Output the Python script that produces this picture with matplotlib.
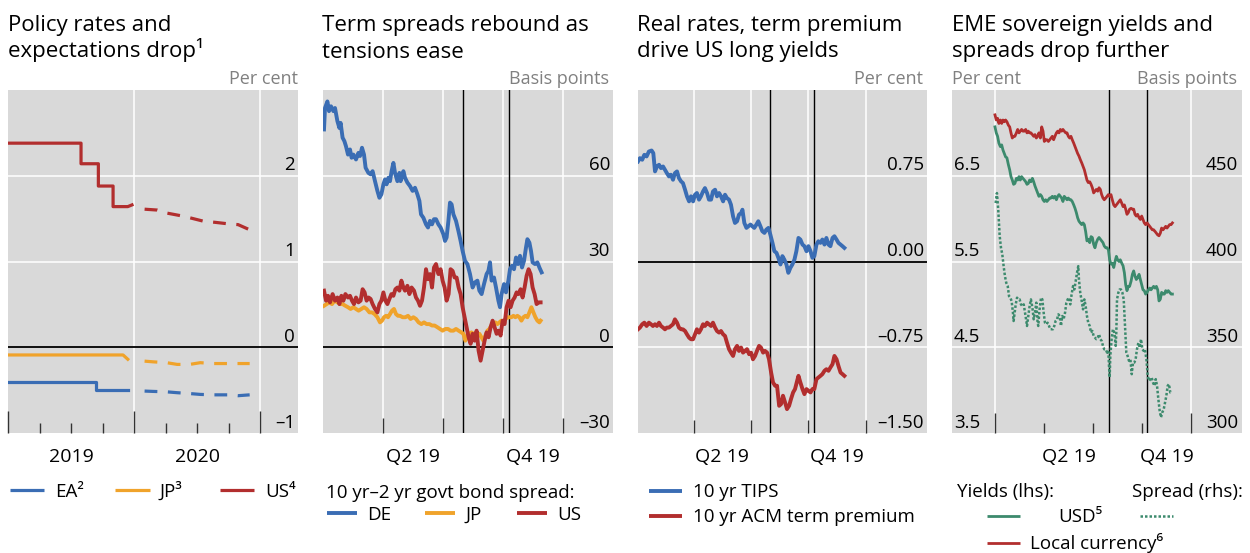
import matplotlib
matplotlib.use("Agg")
import matplotlib.pyplot as plt
import matplotlib.transforms as mtransforms
from matplotlib.lines import Line2D

plt.rcParams['font.family'] = ['Open Sans', 'DejaVu Sans']

# ---------------- DATA (x in months since 1 Jan 2019) ----------------
# Panel 1: policy rates (solid) and market-implied path (dashed), per cent
us_m = [0, 6.95, 6.95, 8.6, 8.6, 10.0, 10.0, 11.4, 11.8]
us_v = [2.38, 2.38, 2.14, 2.14, 1.88, 1.88, 1.64, 1.64, 1.66]
us_fm = [12.0, 13.0, 14.2, 15.1, 16.4, 17.3, 18.6, 19.7, 20.9, 21.9, 23.0]
us_fv = [1.62, 1.61, 1.60, 1.565, 1.535, 1.51, 1.47, 1.457, 1.44, 1.43, 1.37]
jp_m = [0, 10.95, 11.4]
jp_v = [-0.09, -0.09, -0.14]
jp_fm = [12.0, 12.8, 13.8, 15.1, 16.1, 17.3, 18.3, 19.5, 20.9, 23.0]
jp_fv = [-0.15, -0.16, -0.17, -0.18, -0.20, -0.20, -0.18, -0.19, -0.19, -0.19]
ea_m = [0, 8.4, 8.4, 11.4]
ea_v = [-0.40, -0.40, -0.50, -0.50]
ea_fm = [12.0, 12.8, 13.8, 15.1, 16.1, 17.3, 18.3, 19.5, 20.9, 21.9, 23.0]
ea_fv = [-0.50, -0.51, -0.515, -0.52, -0.53, -0.54, -0.55, -0.555, -0.555, -0.565, -0.555]

# Panel 2: 10yr-2yr spreads, basis points
de_m = [0.05,0.10,0.22,0.30,0.40,0.52,0.60,0.72,0.82,0.88, 0.98,1.07,1.15,1.25,1.35,1.43,1.52,1.65,1.77,1.85,
        1.95,2.05,2.13,2.27,2.38,2.48,2.60,2.72,2.82,2.92, 3.02,3.10,3.18,3.27,3.35,3.43,3.52,3.60,3.72,3.82,
        3.88,4.02,4.10,4.22,4.35,4.48,4.60,4.72,4.82,4.90, 5.02,5.15,5.25,5.35,5.45,5.55,5.65,5.77,5.88,6.02,
        6.10,6.18,6.27,6.35,6.43,6.52,6.65,6.77,6.88,6.98, 7.10,7.22,7.35,7.48,7.60,7.72,7.82,7.93,8.05,8.18,
        8.27,8.35,8.43,8.55,8.65,8.77,8.85,8.93,9.05,9.15, 9.27,9.35,9.45,9.55,9.65,9.75,9.85,9.95,10.05,10.15,
        10.22,10.32,10.40,10.48,10.60,10.72,10.82,10.93]
de_v = [76.2,83.7,86.0,82.6,84.3,82.6,83.7,79.1,76.7,78.5, 73.3,72.1,70.3,67.4,69.2,66.3,67.4,65.7,68.0,66.9,
        69.8,67.4,62.8,61.0,60.5,61.6,58.1,54.7,52.3,53.5, 57.0,58.7,57.0,59.3,58.1,61.6,64.5,61.0,58.1,61.0,
        58.1,61.6,59.3,57.6,56.4,54.7,55.8,53.5,51.2,46.5, 45.3,43.0,41.9,44.2,43.0,44.8,44.8,43.0,41.9,39.5,
        37.2,38.4,44.2,50.6,50.0,46.5,44.2,40.7,37.2,33.7, 30.2,29.1,25.6,20.9,22.7,23.3,19.8,18.6,22.1,25.6,
        26.7,29.7,23.3,24.4,20.9,16.3,14.0,18.6,22.1,19.2, 23.3,27.3,28.5,27.3,31.4,29.1,32.0,27.9,30.2,34.9,
        37.8,36.6,33.7,29.7,29.1,29.7,27.9,26.2]
us2_m = [0.05,0.15,0.25,0.35,0.48,0.60,0.72,0.82,0.92,1.02, 1.12,1.25,1.35,1.45,1.55,1.65,1.77,1.88,1.98,2.08,
         2.18,2.28,2.38,2.48,2.60,2.72,2.82,2.92,3.02,3.12, 3.22,3.32,3.42,3.52,3.62,3.72,3.82,3.92,4.02,4.10,
         4.22,4.32,4.43,4.55,4.65,4.75,4.85,4.95,5.05,5.15, 5.25,5.35,5.45,5.55,5.65,5.77,5.88,5.98,6.08,6.18,
         6.28,6.38,6.48,6.58,6.68,6.78,6.88,6.98,7.08,7.18, 7.28,7.38,7.48,7.58,7.68,7.78,7.88,7.98,8.08,8.18,
         8.28,8.38,8.48,8.58,8.68,8.78,8.88,8.98,9.08,9.18, 9.28,9.38,9.48,9.58,9.68,9.78,9.88,9.98,10.08,10.18,
         10.28,10.38,10.48,10.58,10.68,10.78,10.88]
us2_v = [19.8,16.3,18.0,15.7,18.6,16.3,17.4,15.1,18.0,16.3, 18.6,17.4,18.0,16.3,15.1,17.4,15.7,16.3,20.3,19.2,
         16.3,17.4,16.9,15.1,13.4,12.2,15.1,16.3,19.2,16.3, 15.1,16.9,18.6,18.0,20.3,20.9,19.8,23.3,20.9,19.8,
         21.5,18.6,20.9,19.8,17.4,16.3,14.5,16.3,20.9,27.3, 23.8,25.6,20.9,27.9,29.1,25.6,27.3,23.3,20.9,16.3,
         18.6,27.3,26.7,24.4,24.4,20.9,18.6,14.0,10.5,7.0, 3.5,1.2,4.7,2.3,5.8,-1.2,-4.7,-1.2,2.3,5.2,
         3.5,7.0,9.3,7.0,4.7,5.8,4.1,9.3,8.1,14.0, 16.3,14.0,16.3,17.4,19.2,18.6,20.3,17.4,20.9,25.0,
         27.3,25.6,20.9,18.6,15.1,15.7,15.7]
jp2_m = [0.05,0.18,0.32,0.45,0.58,0.72,0.85,0.98,1.12,1.25, 1.38,1.52,1.65,1.78,1.92,2.05,2.18,2.32,2.45,2.58,
         2.72,2.85,2.95,3.05,3.15,3.25,3.35,3.45,3.55,3.65, 3.75,3.85,3.98,4.12,4.25,4.38,4.52,4.65,4.78,4.92,
         5.05,5.18,5.32,5.45,5.58,5.72,5.85,5.98,6.12,6.25, 6.38,6.52,6.65,6.78,6.92,7.02,7.12,7.22,7.32,7.42,
         7.52,7.62,7.72,7.82,7.92,8.02,8.12,8.22,8.32,8.42, 8.52,8.62,8.72,8.82,8.92,9.02,9.12,9.22,9.32,9.42,
         9.52,9.62,9.72,9.82,9.92,10.02,10.12,10.22,10.32,10.42, 10.52,10.62,10.72,10.82,10.88]
jp2_v = [14.5,15.1,15.7,15.1,16.3,15.7,15.1,15.1,14.5,14.0, 13.4,14.0,13.4,12.8,13.4,14.0,13.4,12.2,12.2,11.6,
         10.5,8.7,9.3,10.5,11.0,10.5,11.6,12.8,13.4,11.6, 11.0,11.0,10.5,10.5,11.0,9.9,10.5,9.9,8.7,8.1,
         8.7,8.1,8.1,7.6,7.6,7.0,6.4,5.8,6.4,6.4, 5.8,5.8,6.4,5.8,5.2,4.7,2.3,4.1,4.7,5.2,
         4.7,4.7,4.1,4.7,3.5,2.3,4.1,5.8,6.4,7.6, 8.1,8.7,8.1,8.7,9.3,8.7,9.9,10.5,10.5,10.5,
         11.0,10.5,11.0,10.5,9.3,10.5,11.0,10.5,12.2,14.0, 12.2,10.5,9.3,8.7,9.3]

# Panel 3: US real rates and term premium, per cent
tips_m = [0.09,0.19,0.31,0.42,0.54,0.66,0.80,0.89,0.98,1.08, 1.19,1.29,1.40,1.50,1.60,1.71,1.81,1.92,2.02,2.13,
          2.23,2.34,2.44,2.55,2.65,2.76,2.86,2.97,3.07,3.17, 3.28,3.38,3.49,3.59,3.70,3.80,3.91,4.01,4.12,4.22,
          4.33,4.43,4.54,4.64,4.74,4.85,4.95,5.06,5.16,5.27, 5.37,5.48,5.55,5.65,5.76,5.86,5.97,6.07,6.17,6.28,
          6.38,6.49,6.59,6.70,6.80,6.91,7.01,7.12,7.22,7.33, 7.43,7.54,7.64,7.74,7.85,7.95,8.06,8.16,8.27,8.37,
          8.48,8.58,8.69,8.79,8.90,9.00,9.11,9.21,9.31,9.42, 9.52,9.63,9.73,9.84,9.94,10.05,10.15,10.26,10.36,10.47,
          10.57,10.68,10.78,10.88]
tips_v = [0.875,0.904,0.890,0.933,0.919,0.962,0.971,0.948,0.788,0.831, 0.846,0.817,0.831,0.802,0.773,0.744,0.759,0.715,0.773,0.788,
          0.730,0.701,0.686,0.628,0.570,0.526,0.570,0.526,0.584,0.599, 0.541,0.570,0.613,0.642,0.599,0.541,0.541,0.613,0.628,0.570,
          0.599,0.570,0.526,0.584,0.555,0.541,0.497,0.395,0.337,0.352, 0.410,0.424,0.453,0.337,0.294,0.308,0.323,0.308,0.294,0.323,
          0.352,0.308,0.265,0.250,0.279,0.294,0.235,0.163,0.090,0.076, 0.032,-0.026,0.047,0.017,-0.026,-0.099,-0.055,-0.026,0.017,0.090,
          0.206,0.192,0.148,0.134,0.090,0.134,0.090,0.032,0.047,0.148, 0.177,0.163,0.192,0.148,0.206,0.148,0.134,0.206,0.221,0.192,
          0.163,0.148,0.134,0.119]
acm_m = [0.09,0.19,0.31,0.42,0.54,0.66,0.77,0.87,0.98,1.08, 1.19,1.29,1.40,1.50,1.60,1.71,1.81,1.92,2.02,2.13,
         2.23,2.34,2.44,2.55,2.65,2.76,2.86,2.97,3.07,3.17, 3.28,3.38,3.49,3.59,3.70,3.80,3.91,4.01,4.12,4.22,
         4.33,4.43,4.54,4.64,4.74,4.85,4.95,5.06,5.16,5.27, 5.37,5.48,5.58,5.69,5.79,5.90,6.00,6.10,6.21,6.31,
         6.42,6.52,6.63,6.73,6.84,6.94,7.05,7.15,7.26,7.36, 7.47,7.57,7.67,7.78,7.88,7.99,8.09,8.20,8.30,8.41,
         8.48,8.58,8.69,8.79,8.90,9.00,9.11,9.21,9.31,9.42, 9.52,9.63,9.73,9.84,9.94,10.05,10.15,10.26,10.36,10.47,
         10.57,10.68,10.78,10.88]
acm_v = [-0.593,-0.578,-0.549,-0.535,-0.564,-0.535,-0.549,-0.564,-0.549,-0.564, -0.535,-0.564,-0.578,-0.593,-0.578,-0.578,-0.564,-0.549,-0.506,-0.535,
         -0.578,-0.593,-0.593,-0.608,-0.637,-0.666,-0.680,-0.680,-0.637,-0.593, -0.622,-0.593,-0.549,-0.564,-0.535,-0.549,-0.564,-0.535,-0.578,-0.608,
         -0.622,-0.608,-0.637,-0.651,-0.709,-0.767,-0.797,-0.826,-0.767,-0.738, -0.782,-0.753,-0.797,-0.782,-0.767,-0.811,-0.797,-0.855,-0.826,-0.782,
         -0.738,-0.753,-0.797,-0.782,-0.797,-0.855,-0.971,-1.058,-1.087,-1.087, -1.262,-1.247,-1.174,-1.233,-1.291,-1.262,-1.203,-1.145,-1.116,-1.044,
         -1.000,-1.058,-1.116,-1.160,-1.116,-1.131,-1.145,-1.116,-1.116,-1.029, -1.015,-1.000,-0.985,-0.956,-0.942,-0.956,-0.927,-0.898,-0.826,-0.855,
         -0.913,-0.971,-0.985,-1.000]

# Panel 4: EME sovereign yields (per cent, lhs) and spread (bp, rhs)
eme_m = [0,0.08,0.16,0.24,0.33,0.41,0.49,0.57,0.65,0.73, 0.82,0.90,0.98,1.06,1.14,1.22,1.31,1.39,1.47,1.55,
         1.63,1.71,1.80,1.88,1.96,2.04,2.12,2.20,2.29,2.37, 2.45,2.53,2.61,2.69,2.78,2.86,2.94,3.02,3.10,3.18,
         3.27,3.35,3.43,3.51,3.59,3.67,3.76,3.84,3.92,4.00, 4.08,4.16,4.24,4.33,4.41,4.49,4.57,4.65,4.73,4.82,
         4.90,4.98,5.06,5.14,5.22,5.31,5.39,5.47,5.55,5.63, 5.71,5.80,5.88,5.96,6.04,6.12,6.20,6.29,6.37,6.45,
         6.53,6.61,6.69,6.78,6.86,6.94,7.02,7.10,7.18,7.27, 7.35,7.43,7.51,7.59,7.67,7.76,7.84,7.92,8.00,8.08,
         8.16,8.24,8.33,8.41,8.49,8.57,8.65,8.73,8.82,8.90, 8.98,9.06,9.14,9.22,9.31,9.39,9.47,9.55,9.63,9.71,
         9.80,9.88,9.96,10.04,10.12,10.20,10.29,10.37,10.45,10.53, 10.61,10.69,10.78,10.86]
usd_v = [7.07,7.00,6.96,6.88,6.84,6.86,6.80,6.76,6.72,6.71, 6.63,6.57,6.49,6.45,6.40,6.41,6.47,6.45,6.49,6.45,
         6.49,6.47,6.45,6.43,6.40,6.41,6.45,6.43,6.47,6.43, 6.38,6.34,6.30,6.26,6.28,6.26,6.22,6.20,6.22,6.20,
         6.22,6.24,6.24,6.26,6.24,6.26,6.22,6.26,6.28,6.26, 6.24,6.20,6.26,6.24,6.22,6.24,6.22,6.22,6.20,6.16,
         6.12,6.07,6.01,5.97,5.95,5.93,5.95,5.93,5.85,5.74, 5.76,5.72,5.79,5.78,5.70,5.66,5.72,5.76,5.78,5.76,
         5.74,5.72,5.68,5.66,5.66,5.64,5.52,5.47,5.48,5.43, 5.50,5.56,5.52,5.50,5.52,5.48,5.45,5.37,5.23,5.16,
         5.21,5.21,5.27,5.35,5.39,5.33,5.29,5.31,5.35,5.29, 5.23,5.17,5.16,5.12,5.14,5.17,5.19,5.17,5.19,5.21,
         5.19,5.21,5.17,5.04,5.06,5.14,5.12,5.12,5.16,5.14, 5.16,5.14,5.12,5.12]
lcy_v = [7.21,7.15,7.17,7.11,7.15,7.11,7.15,7.13,7.15,7.13, 7.09,7.07,7.00,6.94,6.96,6.96,7.00,7.04,7.00,7.02,
         7.04,7.02,7.02,7.04,7.00,7.02,7.00,7.00,6.98,6.96, 6.98,6.94,6.96,7.00,6.94,7.07,7.02,6.90,6.92,6.92,
         6.90,6.92,6.94,6.96,6.92,6.96,7.00,7.02,7.00,7.04, 7.02,7.04,7.02,7.00,7.00,6.96,6.94,6.96,6.92,6.88,
         6.84,6.80,6.76,6.73,6.69,6.65,6.61,6.57,6.51,6.45, 6.42,6.43,6.40,6.36,6.30,6.32,6.34,6.32,6.36,6.34,
         6.28,6.24,6.22,6.24,6.26,6.28,6.26,6.28,6.22,6.16, 6.14,6.16,6.18,6.20,6.22,6.18,6.14,6.16,6.11,6.05,
         6.07,6.11,6.12,6.11,6.11,6.05,6.03,6.05,6.01,5.99, 6.03,5.99,5.95,5.93,5.95,5.93,5.91,5.89,5.87,5.87,
         5.85,5.83,5.81,5.80,5.83,5.89,5.87,5.89,5.91,5.89, 5.91,5.93,5.93,5.95]
sp_m = [0.04,0.12,0.20,0.29,0.37,0.45,0.53,0.61,0.69,0.78, 0.86,0.94,1.02,1.10,1.14,1.18,1.27,1.35,1.43,1.51,
        1.59,1.67,1.76,1.84,1.92,1.96,2.04,2.12,2.20,2.29, 2.37,2.45,2.53,2.61,2.65,2.73,2.82,2.90,2.98,3.06,
        3.14,3.22,3.31,3.39,3.47,3.55,3.63,3.71,3.80,3.88, 3.96,4.04,4.12,4.20,4.29,4.37,4.45,4.53,4.61,4.69,
        4.78,4.86,4.94,5.02,5.10,5.14,5.22,5.31,5.39,5.47, 5.55,5.63,5.71,5.80,5.88,5.96,6.04,6.12,6.20,6.29,
        6.37,6.45,6.53,6.61,6.69,6.78,6.86,6.94,6.98,7.02, 7.06,7.14,7.22,7.31,7.39,7.43,7.47,7.55,7.63,7.71,
        7.80,7.88,7.96,8.04,8.12,8.20,8.29,8.37,8.45,8.53, 8.61,8.69,8.78,8.86,8.94,9.02,9.10,9.18,9.27,9.35,
        9.43,9.51,9.59,9.67,9.76,9.84,9.92,10.00,10.08,10.16, 10.24,10.33,10.41,10.49,10.57,10.65,10.73,10.82]
sp_v = [434.1,439.9,430.2,414.7,407.9,404.1,397.3,391.5,387.6,385.7, 379.8,378.9,376.9,370.2,365.3,368.2,375.0,378.9,377.9,377.9,
        375.0,374.0,375.0,370.2,365.3,362.4,368.2,374.0,377.9,373.1, 366.3,370.2,376.0,364.3,362.4,372.1,378.9,377.9,370.2,364.3,
        363.4,364.3,362.4,360.5,360.5,360.5,362.4,365.3,366.3,369.2, 368.2,362.4,368.2,366.3,370.2,376.0,377.9,378.9,375.0,380.8,
        385.7,383.7,388.6,393.4,397.3,389.5,381.8,376.9,372.1,377.9, 374.0,368.2,364.3,362.4,358.5,359.5,356.6,355.6,354.7,355.6,
        357.6,354.7,353.7,350.8,348.8,348.8,346.9,347.9,339.1,332.4, 344.9,354.7,360.5,358.5,350.8,359.5,377.9,381.8,383.7,383.7,
        381.8,377.9,362.4,346.9,344.9,342.1,343.0,334.3,341.1,341.1, 343.0,348.8,352.7,349.8,354.7,348.8,347.9,348.8,343.0,333.3,
        330.4,331.4,332.4,329.5,327.5,331.4,327.5,319.8,313.0,309.1, 312.0,313.9,317.8,321.7,327.5,328.5,323.6,323.6]

# event dates (1 Aug 2019, 9 Oct 2019) marked by vertical lines
events = [7.0, 9.28]

# ---------------- STYLE ----------------
BLUE = '#3a6db4'
RED = '#b22e2e'
ORANGE = '#f0a32b'
GREEN = '#3c8a6d'
BG = '#d9d9d9'
GRAY = '#808080'
TICKC = '#333333'
FS_TITLE = 16
FS_TICK = 13.5
FS_X = 14
FS_LEG = 13.5
FS_UNIT = 13

W, H = 1250, 553
fig = plt.figure(figsize=(W / 100, H / 100), dpi=100)


def add_ax(x0, x1, top=90, bot=433):
    return fig.add_axes([x0 / W, 1 - bot / H, (x1 - x0) / W, (bot - top) / H])


def ftext(xpx, ybase, s, **kw):
    kw.setdefault('va', 'baseline')
    return fig.text(xpx / W, 1 - ybase / H, s, **kw)


def style(ax, xlim, ylim, hgrid, vgrid, zero=False):
    ax.set_facecolor(BG)
    for s in ax.spines.values():
        s.set_visible(False)
    ax.set_xlim(*xlim)
    ax.set_ylim(*ylim)
    ax.set_yticks([])
    for v in hgrid:
        ax.axhline(v, color='white', lw=1.1, zorder=0.5)
    for v in vgrid:
        ax.axvline(v, color='white', lw=1.1, zorder=0.5)
    if zero:
        ax.axhline(0, color='black', lw=1.3, zorder=1.5)


def xticks(ax, major, minor, lmaj, lmin):
    ax.set_xticks(major)
    ax.set_xticks(minor, minor=True)
    ax.tick_params(axis='x', which='major', direction='in', length=lmaj, width=1,
                   color=TICKC, labelbottom=False, bottom=True, top=False)
    ax.tick_params(axis='x', which='minor', direction='in', length=lmin, width=1,
                   color=TICKC, labelbottom=False, bottom=True, top=False)


def ylabels(ax, vals, labels, side='right', inset_px=3, up_px=5.5):
    trans = mtransforms.blended_transform_factory(ax.transAxes, ax.transData)
    trans = trans + mtransforms.ScaledTranslation(0, up_px / 100, fig.dpi_scale_trans)
    wpx = ax.get_position().width * W
    x = 1 - inset_px / wpx if side == 'right' else inset_px / wpx
    for v, l in zip(vals, labels):
        ax.text(x, v, l, transform=trans, ha=side, va='baseline', fontsize=FS_TICK,
                color='black', zorder=5)


def xlabels(ax, vals, labels, base_px=462):
    trans = mtransforms.blended_transform_factory(ax.transData, fig.transFigure)
    for v, l in zip(vals, labels):
        ax.text(v, 1 - base_px / H, l, transform=trans, ha='center', va='baseline',
                fontsize=FS_X)


def leg_line(x0, x1, y, **kw):
    fig.add_artist(Line2D([x0 / W, x1 / W], [1 - y / H, 1 - y / H],
                          transform=fig.transFigure, solid_capstyle='butt', **kw))


def title(x, l1, l2):
    ftext(x, 31.5, l1, fontsize=FS_TITLE)
    ftext(x, 57.5, l2, fontsize=FS_TITLE)


# ---------------- PANEL 1 ----------------
ax1 = add_ax(8, 298)
style(ax1, (0, 27.6), (-1, 3), [1, 2], [12, 24], zero=True)
xticks(ax1, [0, 12, 24], [3, 6, 9, 15, 18, 21], 16, 7.2)
lw1 = 2.3
dash = (4, (4, 3.3))
ax1.plot(ea_m, ea_v, color=BLUE, lw=lw1, zorder=3)
ax1.plot(ea_fm, ea_fv, color=BLUE, lw=lw1, ls=dash, zorder=3)
ax1.plot(jp_m, jp_v, color=ORANGE, lw=lw1, zorder=3)
ax1.plot(jp_fm, jp_fv, color=ORANGE, lw=lw1, ls=dash, zorder=3)
ax1.plot(us_m, us_v, color=RED, lw=lw1, zorder=3)
ax1.plot(us_fm, us_fv, color=RED, lw=lw1, ls=dash, zorder=3)
ylabels(ax1, [-1, 0, 1, 2], ['–1', '0', '1', '2'])
xlabels(ax1, [6, 18], ['2019', '2020'])
title(8, 'Policy rates and', 'expectations drop¹')
ftext(298, 84, 'Per cent', ha='right', fontsize=FS_UNIT, color=GRAY)
for (x0, x1, xt, c, lab) in [(10, 44, 55, BLUE, 'EA²'), (115, 150, 160, ORANGE, 'JP³'),
                             (220, 254, 265, RED, 'US⁴')]:
    leg_line(x0, x1, 490, color=c, lw=lw1)
    ftext(xt, 497, lab, fontsize=FS_LEG)

# ---------------- PANEL 2 ----------------
ax2 = add_ax(323, 613)
style(ax2, (0, 14.5), (-30, 90), [30, 60], [3, 6, 9, 12], zero=True)
xticks(ax2, [3, 6, 9, 12], [], 11, 0)
for e in events:
    ax2.axvline(e, color='black', lw=1.0, zorder=1.6)
lw2 = 2.8
ax2.plot(de_m, de_v, color=BLUE, lw=lw2, zorder=3)
ax2.plot(jp2_m, jp2_v, color=ORANGE, lw=lw2, zorder=3)
ax2.plot(us2_m, us2_v, color=RED, lw=lw2, zorder=3.1)
ylabels(ax2, [-30, 0, 30, 60], ['–30', '0', '30', '60'])
xlabels(ax2, [4.5, 10.5], ['Q2 19', 'Q4 19'])
title(322, 'Term spreads rebound as', 'tensions ease')
ftext(609, 84, 'Basis points', ha='right', fontsize=FS_UNIT, color=GRAY)
ftext(326, 498, '10 yr–2 yr govt bond spread:', fontsize=FS_LEG)
for (x0, x1, xt, c, lab) in [(327, 357, 367, BLUE, 'DE'), (425, 455, 465, ORANGE, 'JP'),
                             (517, 547, 557, RED, 'US')]:
    leg_line(x0, x1, 513, color=c, lw=lw2)
    ftext(xt, 520, lab, fontsize=FS_LEG)

# ---------------- PANEL 3 ----------------
ax3 = add_ax(638, 927)
style(ax3, (0.09, 15.2), (-1.5, 1.5), [-0.75, 0.75], [3, 6, 9, 12], zero=True)
xticks(ax3, [3, 6, 9, 12], [], 9.5, 0)
for e in events:
    ax3.axvline(e, color='black', lw=1.0, zorder=1.6)
lw3 = 2.8
ax3.plot(tips_m, tips_v, color=BLUE, lw=lw3, zorder=3)
ax3.plot(acm_m, acm_v, color=RED, lw=lw3, zorder=3)
ylabels(ax3, [-1.5, -0.75, 0, 0.75], ['–1.50', '–0.75', '0.00', '0.75'])
xlabels(ax3, [4.5, 10.5], ['Q2 19', 'Q4 19'])
title(637, 'Real rates, term premium', 'drive US long yields')
ftext(923, 84, 'Per cent', ha='right', fontsize=FS_UNIT, color=GRAY)
leg_line(649, 682, 491, color=BLUE, lw=lw3)
ftext(693, 497, '10 yr TIPS', fontsize=FS_LEG)
leg_line(649, 682, 516, color=RED, lw=lw3)
ftext(693, 522, '10 yr ACM term premium', fontsize=FS_LEG)

# ---------------- PANEL 4 ----------------
ax4 = add_ax(952, 1242)
style(ax4, (-2.63, 15.12), (3.5, 7.5), [4.5, 5.5, 6.5], [0, 12])
xticks(ax4, [0, 12], [3, 6, 9], 14.5, 7.2)
for e in events:
    ax4.axvline(e, color='black', lw=1.0, zorder=1.6)
ax4r = ax4.twinx()
ax4r.set_ylim(300, 500)
ax4r.set_yticks([])
for s in ax4r.spines.values():
    s.set_visible(False)
lw4 = 2.0
ax4.plot(eme_m, lcy_v, color=RED, lw=lw4, zorder=3)
ax4.plot(eme_m, usd_v, color=GREEN, lw=lw4, zorder=3)
ax4r.plot(sp_m, sp_v, color=GREEN, lw=1.8, ls=(0, (1, 0.8)), zorder=3)
ylabels(ax4, [3.5, 4.5, 5.5, 6.5], ['3.5', '4.5', '5.5', '6.5'], side='left', inset_px=2)
ylabels(ax4r, [300, 350, 400, 450], ['300', '350', '400', '450'], side='right', inset_px=4)
xlabels(ax4, [4.5, 10.5], ['Q2 19', 'Q4 19'])
title(952, 'EME sovereign yields and', 'spreads drop further')
ftext(952, 84, 'Per cent', ha='left', fontsize=FS_UNIT, color=GRAY)
ftext(1237, 84, 'Basis points', ha='right', fontsize=FS_UNIT, color=GRAY)
ftext(957, 497, 'Yields (lhs):', fontsize=FS_LEG)
ftext(1132, 497, 'Spread (rhs):', fontsize=FS_LEG)
leg_line(987, 1020, 516, color=GREEN, lw=lw4)
ftext(1058, 522, 'USD⁵', fontsize=FS_LEG)
leg_line(1140, 1173, 516, color=GREEN, lw=1.8, ls=(0, (1, 0.8)))
leg_line(987, 1020, 543, color=RED, lw=lw4)
ftext(1030, 549, 'Local currency⁶', fontsize=FS_LEG)

fig.savefig('out.png', dpi=100)
